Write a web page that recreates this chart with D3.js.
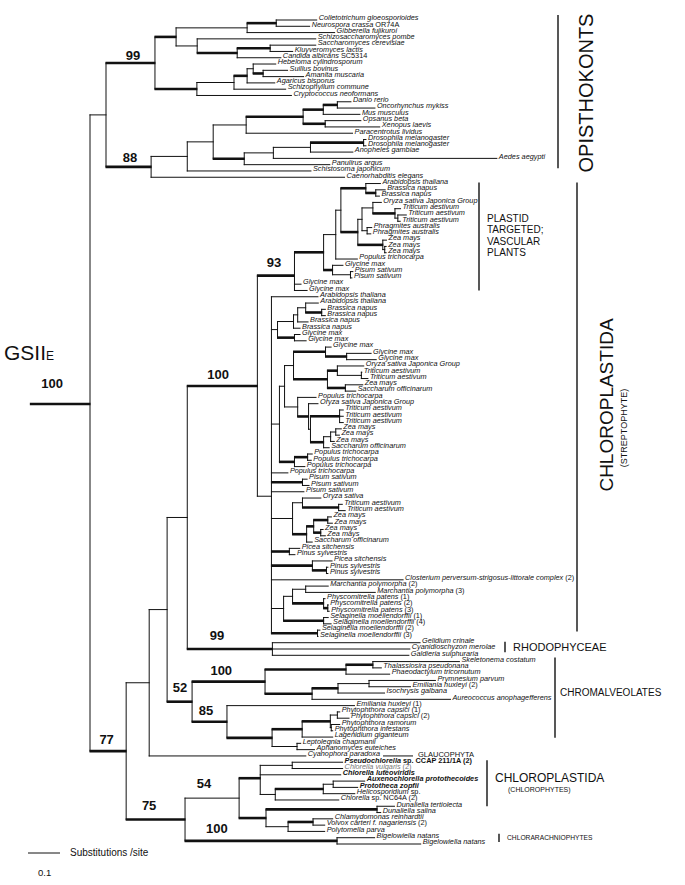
<!DOCTYPE html>
<html><head><meta charset="utf-8">
<script src="https://cdn.jsdelivr.net/npm/d3@7"></script>
<style>body{margin:0;background:#fff}svg{display:block}</style>
</head><body>
<script>
// ---------- DATA ----------
const leafNames = [
"Colletotrichum gloeosporioides","Neurospora crassa OR74A","Gibberella fujikuroi","Schizosaccharomyces pombe",
"Saccharomyces cerevisiae","Kluyveromyces lactis","Candida albicans SC5314","Hebeloma cylindrosporum",
"Suillus bovinus","Amanita muscaria","Agaricus bisporus","Schizophyllum commune","Cryptococcus neoformans",
"Danio rerio","Oncorhynchus mykiss","Mus musculus","Opsanus beta","Xenopus laevis","Paracentrotus lividus",
"Drosophila melanogaster","Drosophila melanogaster","Anopheles gambiae","Aedes aegypti","Panulirus argus",
"Schistosoma japonicum","Caenorhabditis elegans",
"Arabidopsis thaliana","Brassica napus","Brassica napus","Oryza sativa Japonica Group","Triticum aestivum",
"Triticum aestivum","Triticum aestivum","Phragmites australis","Phragmites australis","Zea mays","Zea mays",
"Zea mays","Populus trichocarpa","Glycine max","Pisum sativum","Pisum sativum","Glycine max","Glycine max",
"Arabidopsis thaliana","Arabidopsis thaliana","Brassica napus","Brassica napus","Brassica napus","Brassica napus",
"Glycine max","Glycine max","Glycine max","Glycine max","Glycine max","Oryza sativa Japonica Group",
"Triticum aestivum","Triticum aestivum","Zea mays","Saccharum officinarum","Populus trichocarpa",
"Oryza sativa Japonica Group","Triticum aestivum","Triticum aestivum","Triticum aestivum","Zea mays","Zea mays",
"Zea mays","Saccharum officinarum","Populus trichocarpa","Populus trichocarpa","Populus trichocarpa",
"Populus trichocarpa","Pisum sativum","Pisum sativum","Pisum sativum","Oryza sativa","Triticum aestivum",
"Triticum aestivum","Zea mays","Zea mays","Zea mays","Zea mays","Saccharum officinarum","Picea sitchensis",
"Pinus sylvestris","Picea sitchensis","Pinus sylvestris","Pinus sylvestris",
"Closterium perversum-strigosus-littorale complex (2)","Marchantia polymorpha (2)","Marchantia polymorpha (3)",
"Physcomitrella patens (1)","Physcomitrella patens (2)","Physcomitrella patens (3)",
"Selaginella moellendorffii (1)","Selaginella moellendorffii (4)","Selaginella moellendorffii (2)",
"Selaginella moellendorffii (3)","Gelidium crinale","Cyanidioschyzon merolae","Galdieria sulphuraria",
"Skeletonema costatum","Thalassiosira pseudonana","Phaeodactylum tricornutum","Prymnesium parvum",
"Emiliania huxleyi (2)","Isochrysis galbana","Aureococcus anophagefferens","Emiliania huxleyi (1)",
"Phytophthora capsici (1)","Phytophthora capsici (2)","Phytophthora ramorum","Phytophthora infestans",
"Lagenidium giganteum","Leptolegnia chapmanii","Aphanomyces euteiches","Cyanophora paradoxa",
"Pseudochlorella sp. CCAP 211/1A (2)","Chlorella vulgaris (2)","Chlorella luteoviridis",
"Auxenochlorella protothecoides","Prototheca zopfii","Helicosporidium sp.","Chlorella sp. NC64A (2)",
"Dunaliella tertiolecta","Dunaliella salina","Chlamydomonas reinhardtii","Volvox carteri f. nagariensis (2)",
"Polytomella parva","Bigelowiella natans","Bigelowiella natans"];

// Newick fragments: leaf = index into leafNames, ":" = branch length (substitutions/site), "*" = bold branch
const fungiNwk = "((((0:0.128,1:0.106)*:0.091,2:0.275):0.222,(3:0.372,((4:0.144,5:0.072)*:0.103,6:0.138)*:0.125):0.066)*:0.066,((((7:0.072,(8:0.078,9:0.128)*:0.031):0.019,10:0.088)*:0.041,11:0.163):0.116,12:0.297)*:0.131)FUN*:0.153";
const animalNwk = "(((((((13:0.044,14:0.119)*:0.044,15:0.116)*:0.063,(16:0.113,17:0.172)*:0.069)*:0.178,18:0.334):0.103,((((19:0.009,20:0.009)*:0.166,21:0.134):0.116,22:0.7):0.091,23:0.269)*:0.097):0.081,24:0.388):0.113,25:0.606)ANI*:0.141";
const plastidNwk = "(((((26:0.047,(27:0.031,28:0.013)*:0.031)*:0.078,(((29:0.028,(30:0.019,(31:0.028,32:0.009):0.009)*:0.069):0.034,(33:0.016,34:0.013):0.016):0.013,(35:0.013,(36:0.006,37:0.006):0.006)*:0.078)*:0.053):0.016,38:0.069):0.038,(39:0.034,(40:0.009,41:0.006):0.056)*:0.028)*:0.091,42:0.022,43:0.041)PT*:0.116";
const streptoNwk = "(44:0.147,((((45:0.041,(46:0.013,47:0.013)*:0.05):0.025,48:0.034):0.013,49:0.022):0.05,(50:0.019,51:0.038)*:0.053):0.019,((((52:0.019,(53:0.078,54:0.094)*:0.066)*:0.1,((55:0.084,(56:0.003,57:0.022):0.075)*:0.031,(58:0.056,59:0.034)*:0.056)*:0.106):0.028,(60:0.059,(61:0.031,((62:0.013,63:0.013,64:0.013)*:0.091,(((65:0.019,66:0.013):0.016,67:0.013):0.022,68:0.019)*:0.041):0.006)*:0.034):0.041):0.016,((69:0.016,70:0.013)*:0.041,71:0.034)*:0.047):0.025,72:0.053,(73:0.016,74:0.022)*:0.097,75:0.103,((76:0.059,(77:0.013,78:0.022)*:0.113):0.031,(((79:0.013,80:0.016)*:0.044,(81:0.009,82:0.016)*:0.022)*:0.022,83:0.019)*:0.044):0.066,(84:0.034,85:0.019)*:0.056,(86:0.063,(87:0.006,88:0.006)*:0.044)*:0.128,89:0.413,(((90:0.072,91:0.219):0.041,(92:0.006,(93:0.003,94:0.006)*:0.013)*:0.097):0.028,(95:0.016,96:0.025)*:0.125):0.038,(97:0.009,98:0.003)*:0.144):0.044";
const rhodoNwk = "(99:0.463,100:0.431,101:0.428)RHO*:0.266";
const chromNwk = "((((102:0.272,103:0.028)*:0.084,104:0.138)*:0.253,(((105:0.209,106:0.131):0.097,107:0.147)*:0.081,108:0.434)*:0.147)DIA*:0.228,(109:0.4,((((110:0.009,111:0.038):0.022,(112:0.028,113:0.006):0.003)*:0.088,114:0.097)*:0.094,(115:0.013,116:0.056):0.078)*:0.141)OOM*:0.109)CHR*:0.078";
const chloroNwk = "((((118:0.159,119:0.159):0.1,120:0.253,(((121:0.1,122:0.078):0.031,123:0.1)*:0.15,124:0.2):0.047)*:0.066,((125:0.056,126:0.013)*:0.347,((127:0.063,128:0.038)*:0.078,129:0.116):0.069)*:0.084)CL54:0.169,(130:0.119,131:0.263)BIG*:0.475)CL75*:0.184";
const treeNewick = "((" + fungiNwk + "," + animalNwk + "):0.05,((((" + "(" + plastidNwk + "," + streptoNwk + ")STR*:0.219," + rhodoNwk + "):0.063," + chromNwk + "):0.056,117:0.491):0.072," + chloroNwk + ")N77*:0.113)ROOT*:0.188;";

const supportNodes  = ["ROOT","FUN","ANI","PT","STR","RHO","DIA","CHR","OOM","N77","CL54","CL75","BIG"];
const supportValues = [100, 99, 88, 93, 100, 99, 100, 52, 85, 77, 54, 75, 100];

const boldLeaves = [118,120,121,122];
const grayLeaves = [119];

// ---------- PARSER ----------
function parseNewick(s){
  let i=0;
  function node(){
    const n={};
    if(s[i]==='('){
      n.children=[]; i++;
      n.children.push(node());
      while(s[i]===','){i++; n.children.push(node());}
      i++;
    }
    let name='';
    while(i<s.length && !':,);'.includes(s[i])) name+=s[i++];
    n.thick = name.endsWith('*');
    n.name = n.thick ? name.slice(0,-1) : name;
    n.length=0;
    if(s[i]===':'){i++; let num=''; while(i<s.length && !',);'.includes(s[i])) num+=s[i++]; n.length=+num;}
    return n;
  }
  return node();
}

// ---------- LAYOUT ----------
const W=685,H=885;
const svg=d3.select("body").append("svg").attr("width",W).attr("height",H)
  .style("font-family","'Liberation Sans', Arial, Helvetica, sans-serif");
const x=d3.scaleLinear().domain([0,0.1]).range([90,122]);
const y=d3.scalePoint().domain(d3.range(leafNames.length)).range([20,844]);
const root=d3.hierarchy(parseNewick(treeNewick));
root.eachBefore(d=>{d.len = d.parent ? d.parent.len + d.data.length : 0;});
root.eachAfter(d=>{d.yy = d.children ? d3.mean(d.children,c=>c.yy) : y(+d.data.name);});
const ROOT_STEM_SHIFT = -29;          // root stem is drawn above the midpoint in the original figure
root.yy = root.yy + ROOT_STEM_SHIFT;

const ink="#111";
const g=svg.append("g").attr("stroke",ink).attr("fill","none");
const THICK=2.6, THIN=1;
g.append("line").attr("x1",x(-root.data.length)).attr("x2",x(0)+0.5)
  .attr("y1",root.yy).attr("y2",root.yy).attr("stroke-width",THICK);
root.descendants().forEach(d=>{
  if(d.parent){
    g.append("line").attr("x1",x(d.parent.len)-0.5).attr("x2",x(d.len)+(d.children?0.5:0))
      .attr("y1",d.yy).attr("y2",d.yy).attr("stroke-width",d.data.thick?THICK:THIN);
  }
  if(d.children){
    const ys=d.children.map(c=>c.yy);
    g.append("line").attr("x1",x(d.len)).attr("x2",x(d.len))
      .attr("y1",d3.min(ys)-0.5).attr("y2",d3.max(ys)+0.5).attr("stroke-width",THIN);
  }
});

// leaf labels
const plain = t => /^\(/.test(t) || t==="sp." || /\d/.test(t) || /^[A-Z]{2,}$/.test(t);
root.leaves().forEach(d=>{
  const i=+d.data.name;
  const t=svg.append("text").attr("x",x(d.len)+1.5).attr("y",d.yy+0.3)
    .attr("font-size",7.3).attr("fill",grayLeaves.includes(i)?"#777":ink)
    .attr("font-weight",boldLeaves.includes(i)?"bold":"normal");
  const toks=leafNames[i].split(" ");
  toks.forEach((tk,k)=>{
    t.append("tspan").attr("font-style",plain(tk)?"normal":"italic").text((k?" ":"")+tk);
  });
});

// support values
const supPlace = {ROOT:[0.37,16],FUN:[0.55,2.5],ANI:[0.53,4.5],PT:[0.45,9],STR:[0.44,7],RHO:[0.35,9],
  DIA:[0.4,7],CHR:[0.52,10],OOM:[0.4,7],N77:[0.46,7],CL54:[0.35,10],CL75:[0.39,9],BIG:[0.21,8]};
supportNodes.forEach((nm,k)=>{
  const d=root.descendants().find(n=>n.data.name===nm);
  const x0 = d.parent ? x(d.parent.len) : x(-d.data.length), x1=x(d.len);
  const p=supPlace[nm];
  svg.append("text").attr("x",x0+(x1-x0)*p[0]).attr("y",d.yy-p[1])
    .attr("text-anchor","middle").attr("font-family","'Liberation Sans Narrow','Arial Narrow',sans-serif")
    .attr("font-weight","bold").attr("font-size",13).attr("fill",ink).text(supportValues[k]);
});

// GSIIE title
const gt=svg.append("text").attr("x",4).attr("y",360).attr("font-size",21).attr("fill",ink);
gt.append("tspan").text("GSII");
gt.append("tspan").attr("font-size",12).text("E");

// clade annotations
const ann=svg.append("g").attr("fill",ink);
function vbar(xp,i0,d0,i1,d1){
  ann.append("line").attr("x1",xp).attr("x2",xp).attr("y1",y(i0)+d0).attr("y2",y(i1)+d1)
    .attr("stroke",ink).attr("stroke-width",1.4);
}
vbar(558,0,-5,25,-9);
ann.append("text").attr("transform","translate(593,93) rotate(-90)").attr("text-anchor","middle")
  .attr("font-size",20).text("OPISTHOKONTS");
vbar(479,26,-1,43,0);
["PLASTID","TARGETED;","VASCULAR","PLANTS"].forEach((s,k)=>
  ann.append("text").attr("x",487).attr("y",222+k*11.4).attr("font-size",10).text(s));
vbar(577,26,-1,98,-5);
ann.append("text").attr("transform","translate(613,405) rotate(-90)").attr("text-anchor","middle")
  .attr("font-size",19).text("CHLOROPLASTIDA");
ann.append("text").attr("transform","translate(627,428) rotate(-90)").attr("text-anchor","middle")
  .attr("font-size",9).text("(STREPTOPHYTE)");
vbar(505,99,-1,101,-3);
ann.append("text").attr("x",513).attr("y",651).attr("font-size",11).text("RHODOPHYCEAE");
vbar(555,102,-4,116,-12);
ann.append("text").attr("x",560).attr("y",696).attr("font-size",10).text("CHROMALVEOLATES");
ann.append("line").attr("x1",383).attr("x2",413).attr("y1",y(117)).attr("y2",y(117)).attr("stroke",ink).attr("stroke-width",1);
ann.append("text").attr("x",418).attr("y",y(117)+1).attr("font-size",7.5).text("GLAUCOPHYTA");
vbar(487,118,-2,125,0);
ann.append("text").attr("x",495).attr("y",782).attr("font-size",12).text("CHLOROPLASTIDA");
ann.append("text").attr("x",508).attr("y",791.5).attr("font-size",7).text("(CHLOROPHYTES)");
vbar(499,130,-4,131,-2);
ann.append("text").attr("x",507).attr("y",840).attr("font-size",6.7).text("CHLORARACHNIOPHYTES");

// scale bar
const sbx=28, sby=853;
svg.append("line").attr("x1",sbx).attr("x2",sbx+(x(0.1)-x(0))).attr("y1",sby).attr("y2",sby)
  .attr("stroke",ink).attr("stroke-width",1);
svg.append("text").attr("x",70).attr("y",856).attr("font-size",10).attr("fill",ink).text("Substitutions /site");
svg.append("text").attr("x",38).attr("y",876).attr("font-size",9.5).attr("fill",ink).text("0.1");
</script>
</body></html>
